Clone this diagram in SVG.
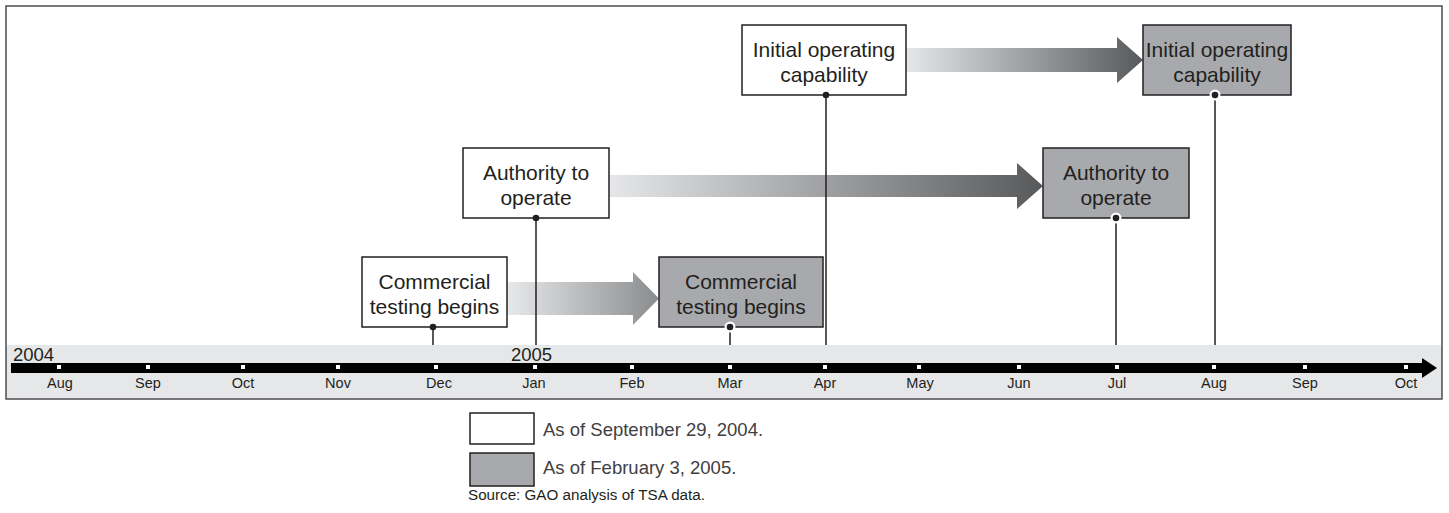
<svg xmlns="http://www.w3.org/2000/svg" width="1449" height="513" viewBox="0 0 1449 513">
<style>
.box{stroke:#231f20;stroke-width:1.5}
.w{fill:#ffffff}
.g{fill:#a7a9ac}
.nt{font-family:"Liberation Sans",Arial,sans-serif;font-size:21px;fill:#231f20;text-anchor:middle}
.mt{font-family:"Liberation Sans",Arial,sans-serif;font-size:14.5px;fill:#231f20;text-anchor:middle}
.yt{font-family:"Liberation Sans",Arial,sans-serif;font-size:18.5px;fill:#231f20}
.lt{font-family:"Liberation Sans",Arial,sans-serif;font-size:18.5px;fill:#414042}
.st{font-family:"Liberation Sans",Arial,sans-serif;font-size:15.2px;fill:#231f20}
.ln{stroke:#231f20;stroke-width:1.5;fill:none}
.tick{fill:#ffffff}
</style>
<defs>
<linearGradient id="gShort" x1="0" y1="0" x2="1" y2="0">
<stop offset="0" stop-color="#e8e9ea"/>
<stop offset="1" stop-color="#8a8c8e"/>
</linearGradient>
<linearGradient id="gLong" x1="0" y1="0" x2="1" y2="0">
<stop offset="0" stop-color="#e6e7e8"/>
<stop offset="1" stop-color="#58595b"/>
</linearGradient>
</defs>
<rect x="0" y="0" width="1449" height="513" fill="#ffffff"/>
<g id="timeline">
<rect x="6" y="345" width="1436" height="54" fill="#e6e7e8"/>
<rect x="6" y="6" width="1436" height="393" fill="none" stroke="#4d4d4f" stroke-width="1.5"/>
<rect x="11" y="363" width="1411" height="10" fill="#000000"/>
<polygon points="1422,358 1437,368 1422,378" fill="#000000"/>
<g class="tick">
<rect x="57" y="365" width="4" height="4"/>
<rect x="146" y="365" width="4" height="4"/>
<rect x="241" y="365" width="4" height="4"/>
<rect x="336" y="365" width="4" height="4"/>
<rect x="434" y="365" width="4" height="4"/>
<rect x="533" y="365" width="4" height="4"/>
<rect x="630" y="365" width="4" height="4"/>
<rect x="728" y="365" width="4" height="4"/>
<rect x="823" y="365" width="4" height="4"/>
<rect x="917" y="365" width="4" height="4"/>
<rect x="1017" y="365" width="4" height="4"/>
<rect x="1115" y="365" width="4" height="4"/>
<rect x="1212" y="365" width="4" height="4"/>
<rect x="1303" y="365" width="4" height="4"/>
<rect x="1404" y="365" width="4" height="4"/>
</g>
<text class="yt" x="13" y="361">2004</text>
<text class="yt" x="511" y="361">2005</text>
<text class="mt" x="60" y="388">Aug</text>
<text class="mt" x="148" y="388">Sep</text>
<text class="mt" x="243" y="388">Oct</text>
<text class="mt" x="338" y="388">Nov</text>
<text class="mt" x="439" y="388">Dec</text>
<text class="mt" x="534" y="388">Jan</text>
<text class="mt" x="632" y="388">Feb</text>
<text class="mt" x="730" y="388">Mar</text>
<text class="mt" x="825" y="388">Apr</text>
<text class="mt" x="920" y="388">May</text>
<text class="mt" x="1019" y="388">Jun</text>
<text class="mt" x="1117" y="388">Jul</text>
<text class="mt" x="1214" y="388">Aug</text>
<text class="mt" x="1305" y="388">Sep</text>
<text class="mt" x="1406" y="388">Oct</text>
</g>
<g id="connectors">
<path d="M507,282 H633 V272 L659,298.5 L633,325 V315 H507 Z" fill="url(#gShort)"/>
<path d="M609,175 H1017 V163 L1043,186 L1017,209 V197 H609 Z" fill="url(#gLong)"/>
<path d="M906,48 H1117 V37 L1143,60 L1117,83 V72 H906 Z" fill="url(#gLong)"/>
<line class="ln" x1="433" y1="327" x2="433" y2="345"/>
<line class="ln" x1="536" y1="218" x2="536" y2="345"/>
<line class="ln" x1="730" y1="327" x2="730" y2="345"/>
<line class="ln" x1="826" y1="95" x2="826" y2="345"/>
<line class="ln" x1="1116" y1="218" x2="1116" y2="345"/>
<line class="ln" x1="1215" y1="95" x2="1215" y2="345"/>
</g>
<g id="node-ctb-2004">
<rect class="box w" x="362" y="257" width="145" height="70"/>
<text class="nt" x="434.5" y="289">Commercial</text>
<text class="nt" x="434.5" y="314">testing begins</text>
<circle cx="433" cy="327" r="3.3" fill="#231f20"/>
</g>
<g id="node-ato-2004">
<rect class="box w" x="463" y="148" width="146" height="70"/>
<text class="nt" x="536" y="180">Authority to</text>
<text class="nt" x="536" y="205">operate</text>
<circle cx="536" cy="218" r="3.3" fill="#231f20"/>
</g>
<g id="node-ioc-2004">
<rect class="box w" x="742" y="25" width="164" height="70"/>
<text class="nt" x="824" y="57">Initial operating</text>
<text class="nt" x="824" y="82">capability</text>
<circle cx="826" cy="95" r="3.3" fill="#231f20"/>
</g>
<g id="node-ctb-2005">
<rect class="box g" x="659" y="257" width="164" height="70"/>
<text class="nt" x="741" y="289">Commercial</text>
<text class="nt" x="741" y="314">testing begins</text>
<circle cx="730" cy="327" r="5.5" fill="#ffffff"/>
<circle cx="730" cy="327" r="3.3" fill="#231f20"/>
</g>
<g id="node-ato-2005">
<rect class="box g" x="1043" y="148" width="146" height="70"/>
<text class="nt" x="1116" y="180">Authority to</text>
<text class="nt" x="1116" y="205">operate</text>
<circle cx="1116" cy="218" r="5.5" fill="#ffffff"/>
<circle cx="1116" cy="218" r="3.3" fill="#231f20"/>
</g>
<g id="node-ioc-2005">
<rect class="box g" x="1143" y="25" width="148" height="70"/>
<text class="nt" x="1217" y="57">Initial operating</text>
<text class="nt" x="1217" y="82">capability</text>
<circle cx="1215" cy="95" r="5.5" fill="#ffffff"/>
<circle cx="1215" cy="95" r="3.3" fill="#231f20"/>
</g>
<g id="legend">
<rect class="box w" x="470" y="413" width="64" height="31"/>
<text class="lt" x="543" y="436">As of September 29, 2004.</text>
<rect class="box g" x="470" y="453" width="64" height="33"/>
<text class="lt" x="543" y="474">As of February 3, 2005.</text>
<text class="st" x="468" y="500">Source: GAO analysis of TSA data.</text>
</g>
</svg>
